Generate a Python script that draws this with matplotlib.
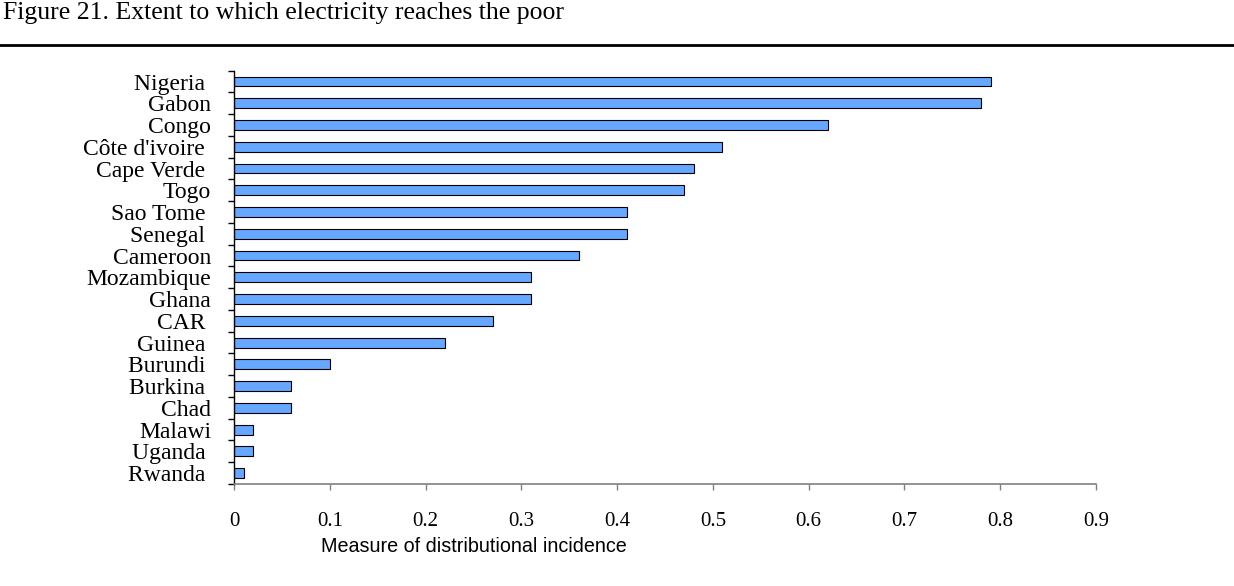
import numpy as np
import matplotlib
matplotlib.use('Agg')
import matplotlib.pyplot as plt
from matplotlib.lines import Line2D
from matplotlib.ticker import FormatStrFormatter

# data, top to bottom (trailing spaces as in the source labels)
countries = ['Nigeria ', 'Gabon', 'Congo', "Côte d'ivoire ", 'Cape Verde ', 'Togo',
             'Sao Tome ', 'Senegal ', 'Cameroon', 'Mozambique', 'Ghana', 'CAR ',
             'Guinea ', 'Burundi ', 'Burkina ', 'Chad', 'Malawi', 'Uganda ', 'Rwanda ']
incidence = [0.79, 0.78, 0.62, 0.51, 0.48, 0.47,
             0.41, 0.41, 0.36, 0.31, 0.31, 0.27,
             0.22, 0.10, 0.06, 0.06, 0.02, 0.02, 0.01]
xticks = np.arange(0, 0.91, 0.1)

title = 'Figure 21. Extent to which electricity reaches the poor'
xlabel = 'Measure of distributional incidence'

W, H = 1234, 586
fig = plt.figure(figsize=(W / 100, H / 100), dpi=100)
ax = fig.add_axes([234 / W, 1 - 484 / H, (1096 - 234) / W, (484 - 70.7) / H])

pos = np.arange(len(countries))
ax.barh(pos, incidence, height=0.45, color='#66A8FF', edgecolor='black', linewidth=0.8)

ax.set_xlim(0, 0.9)
ax.set_ylim(len(countries) - 0.5, -0.5)

# x axis
ax.set_xticks(xticks)
ax.xaxis.set_major_formatter(FormatStrFormatter('%g'))
ax.tick_params(axis='x', direction='out', length=4, width=1, color='#808080', pad=16,
               labelsize=15)
for lab in ax.get_xticklabels():
    lab.set_fontfamily('Liberation Serif')

# y axis: labels at bar centres, tick marks between categories
ax.set_yticks(pos)
ax.set_yticklabels(countries, fontfamily='Liberation Serif', fontsize=17)
ax.tick_params(axis='y', which='major', length=0, pad=16.5)
ax.set_yticks(np.arange(len(countries) + 1) - 0.5, minor=True)
ax.tick_params(axis='y', which='minor', direction='out', length=4, width=1, color='black')

for s in ['top', 'right']:
    ax.spines[s].set_visible(False)
ax.spines['bottom'].set_color('#808080')
ax.spines['bottom'].set_linewidth(1.2)
ax.spines['left'].set_linewidth(1)

fig.text(321 / W, 1 - 547 / H, xlabel, fontfamily='Liberation Sans', fontsize=14.2,
         ha='left', va='center')

# caption and rule across the page
fig.text(3 / W, 1 - 19 / H, title, fontfamily='Liberation Serif', fontsize=18.5,
         ha='left', va='baseline')
fig.add_artist(Line2D([0, 1], [1 - 44.5 / H] * 2, transform=fig.transFigure,
                      color='black', linewidth=2))

fig.savefig('out.png', dpi=100)
